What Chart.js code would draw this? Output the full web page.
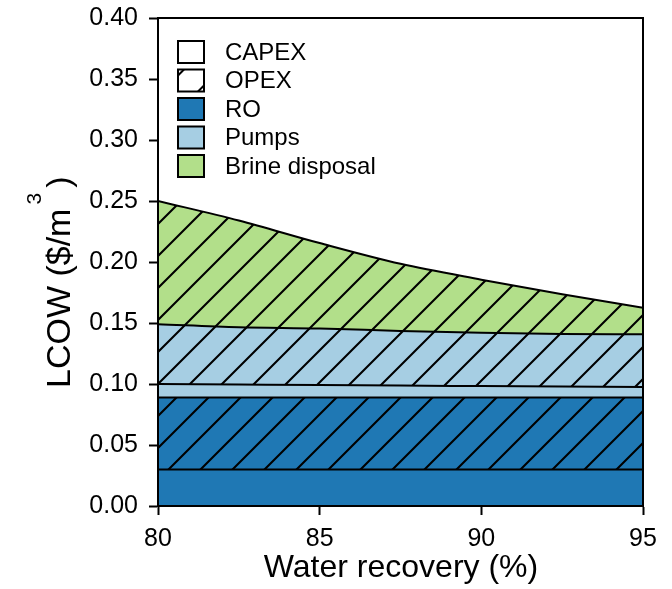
<!DOCTYPE html>
<html>
<head>
<meta charset="utf-8">
<script src="https://cdn.jsdelivr.net/npm/chart.js@4.4.1/dist/chart.umd.min.js"></script>
<style>
  html, body { margin: 0; padding: 0; background: #fff; }
  #wrap { width: 672px; height: 589px; position: relative; }
</style>
</head>
<body>
<div id="wrap"><canvas id="lcowChart" width="672" height="589"></canvas></div>
<script>
// water recovery (%)
const recovery = [80, 82.5, 85, 87.5, 90, 92.5, 95];

// cost components ($/m3), stacked bottom to top
const roCapex     = [0.030, 0.030, 0.030, 0.030, 0.030, 0.030, 0.030];
const roOpex      = [0.059, 0.059, 0.059, 0.059, 0.059, 0.059, 0.059];
const pumpsCapex  = [0.0110, 0.0106, 0.0102, 0.0097, 0.0093, 0.0089, 0.0085];
const pumpsOpex   = [0.0490, 0.0469, 0.0463, 0.0448, 0.0437, 0.0431, 0.0432];
const brineOpex   = [0.1010, 0.0875, 0.0700, 0.0550, 0.0435, 0.0325, 0.0218];

const yTicks = [0, 0.05, 0.10, 0.15, 0.20, 0.25, 0.30, 0.35, 0.40];
const xTicks = [80, 85, 90, 95];

const legendItems = ["CAPEX", "OPEX", "RO", "Pumps", "Brine disposal"];

const RO_COLOR = "#1f78b4";
const PUMP_COLOR = "#a6cee3";
const BRINE_COLOR = "#b2df8a";
const FONT = "'Liberation Sans', Arial, sans-serif";

const canvas = document.getElementById("lcowChart");
const ctx = canvas.getContext("2d");

// diagonal "/" hatch like matplotlib
function hatch(color) {
  const s = 32;
  const c = document.createElement("canvas");
  c.width = s; c.height = s;
  const g = c.getContext("2d");
  g.fillStyle = color;
  g.fillRect(0, 0, s, s);
  g.strokeStyle = "#000";
  g.lineWidth = 2.1;
  g.beginPath();
  g.moveTo(-4, s + 4); g.lineTo(s + 4, -4);
  g.moveTo(-4, 4); g.lineTo(4, -4);
  g.moveTo(s - 4, s + 4); g.lineTo(s + 4, s - 4);
  g.stroke();
  const p = ctx.createPattern(c, "repeat");
  p.setTransform(new DOMMatrix([1, 0, 0, 1, -2, 0]));
  return p;
}

function toPts(arr) {
  return arr.map((v, i) => ({ x: recovery[i], y: v }));
}

function layer(label, data, fillStyle, first) {
  return {
    label: label,
    data: toPts(data),
    backgroundColor: fillStyle,
    borderColor: "#000",
    borderWidth: 2,
    pointRadius: 0,
    fill: first ? "origin" : "-1",
    cubicInterpolationMode: "monotone"
  };
}

// frame, axis titles, legend
const extras = {
  id: "extras",
  afterDraw(chart) {
    const c = chart.ctx;
    const a = chart.chartArea;
    c.save();
    c.strokeStyle = "#000";
    c.lineWidth = 2;
    c.strokeRect(a.left, a.top, a.right - a.left, a.bottom - a.top);

    // x title
    c.fillStyle = "#000";
    c.font = "32px " + FONT;
    c.textAlign = "center";
    c.textBaseline = "alphabetic";
    c.fillText("Water recovery (%)", 401, 577);

    // y title, m^3
    c.save();
    c.translate(70, 388);
    c.rotate(-Math.PI / 2);
    c.textAlign = "left";
    c.font = "34px " + FONT;
    const main = "LCOW ($/m";
    const wMain = c.measureText(main).width;
    c.fillText(main, 0, 0);
    c.font = "21px " + FONT;
    const wSup = c.measureText("3").width;
    c.fillText("3", wMain + 4, -29);
    c.font = "34px " + FONT;
    c.fillText(")", wMain + wSup + 9, 0);
    c.restore();

    // legend
    const fills = ["#fff", "#fff", RO_COLOR, PUMP_COLOR, BRINE_COLOR];
    c.font = "24px " + FONT;
    c.textAlign = "left";
    c.textBaseline = "middle";
    legendItems.forEach((t, i) => {
      const y = 41 + i * 28.5;
      c.fillStyle = fills[i];
      c.fillRect(178, y, 26, 22);
      if (t === "OPEX") {
        // hatch only clips the corners of this small box
        c.save();
        c.beginPath();
        c.rect(178, y, 26, 22);
        c.clip();
        c.lineWidth = 2;
        c.strokeStyle = "#000";
        c.beginPath();
        c.moveTo(170, y + 14); c.lineTo(192, y - 8);
        c.moveTo(190, y + 30); c.lineTo(212, y + 8);
        c.stroke();
        c.restore();
      }
      c.lineWidth = 2;
      c.strokeStyle = "#000";
      c.strokeRect(178, y, 26, 22);
      c.fillStyle = "#000";
      c.fillText(t, 225, y + 12);
    });
    c.restore();
  }
};

new Chart(ctx, {
  type: "line",
  data: {
    datasets: [
      layer("RO CAPEX", roCapex, RO_COLOR, true),
      layer("RO OPEX", roOpex, hatch(RO_COLOR)),
      layer("Pumps CAPEX", pumpsCapex, PUMP_COLOR),
      layer("Pumps OPEX", pumpsOpex, hatch(PUMP_COLOR)),
      layer("Brine disposal", brineOpex, hatch(BRINE_COLOR))
    ]
  },
  options: {
    responsive: false,
    animation: false,
    layout: { padding: { top: 18, right: 29, left: 0, bottom: 0 } },
    plugins: { legend: { display: false }, tooltip: { enabled: false } },
    scales: {
      x: {
        type: "linear",
        min: 80, max: 95,
        afterBuildTicks: s => { s.ticks = xTicks.map(v => ({ value: v })); },
        afterFit: s => { s.height = 83; },
        grid: { display: true, drawOnChartArea: false, drawTicks: true, tickLength: 9, tickWidth: 2, color: "#000" },
        border: { display: true, color: "#000", width: 2 },
        ticks: { color: "#000", padding: 9, font: { family: FONT, size: 25 } }
      },
      y: {
        stacked: true,
        min: 0, max: 0.4,
        afterBuildTicks: s => { s.ticks = yTicks.map(v => ({ value: v })); },
        afterFit: s => { s.width = 158; s.paddingTop = 0; s.paddingBottom = 0; },
        grid: { display: true, drawOnChartArea: false, drawTicks: true, tickLength: 9, tickWidth: 2, color: "#000" },
        border: { display: true, color: "#000", width: 2 },
        ticks: { color: "#000", padding: 11, font: { family: FONT, size: 25 }, callback: v => v.toFixed(2) }
      }
    }
  },
  plugins: [extras]
});
</script>
</body>
</html>
